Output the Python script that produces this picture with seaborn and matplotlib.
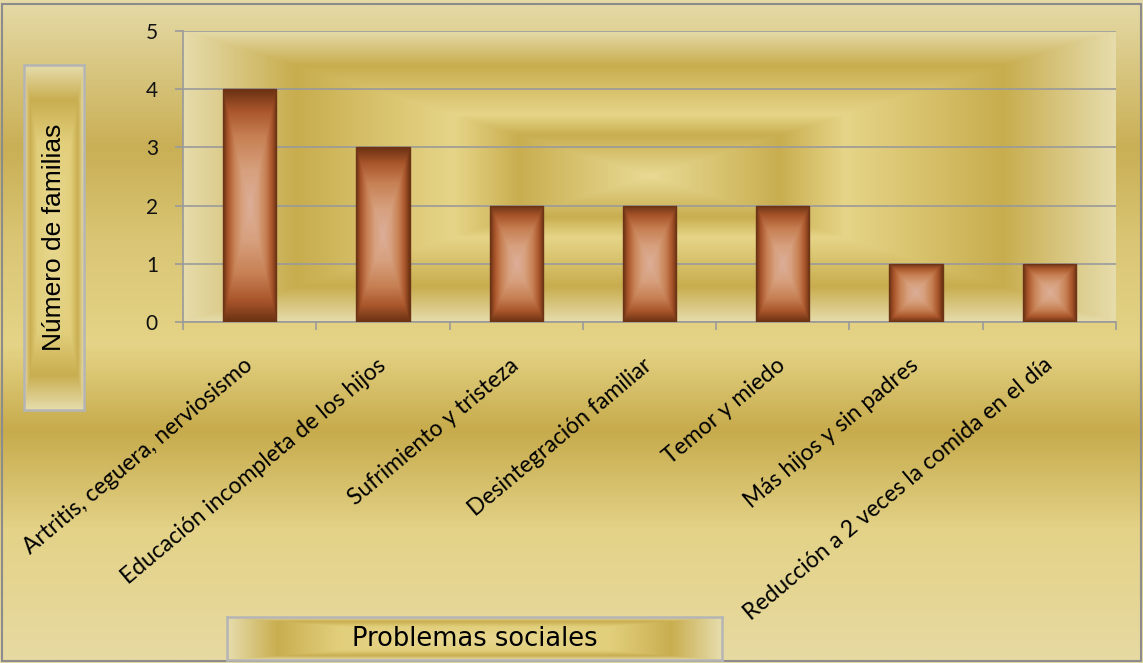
import numpy as np
import matplotlib
matplotlib.use("Agg")
import matplotlib.pyplot as plt
import seaborn as sns
from matplotlib.colors import LinearSegmentedColormap
from matplotlib.patches import Rectangle

# ---- data ----
categories = [
    "Artritis, ceguera, nerviosismo",
    "Educación incompleta de los hijos",
    "Sufrimiento y tristeza",
    "Desintegración familiar",
    "Temor y miedo",
    "Más hijos y sin padres",
    "Reducción a 2 veces la comida en el día",
]
values = [4, 3, 2, 2, 2, 1, 1]
y_ticks = [0, 1, 2, 3, 4, 5]
x_title = "Problemas sociales"
y_title = "Número de familias"

sns.set_theme(style="white")
plt.rcParams['font.family'] = ['Lato', 'DejaVu Sans']

W, H = 1143, 663
fig = plt.figure(figsize=(W / 100, H / 100), dpi=100)


def rect_grad(nx, ny):
    u = np.linspace(-1, 1, nx)
    v = np.linspace(-1, 1, ny)
    U, V = np.meshgrid(u, v)
    return np.maximum(np.abs(U), np.abs(V))


bg_cmap = LinearSegmentedColormap.from_list('bg', [
    (0.0, '#e5daa6'), (0.22, '#c9af55'), (0.36, '#d9c574'), (0.52, '#e5d487'),
    (0.65, '#c7ab4c'), (0.8, '#e3d287'), (1.0, '#e7daa2')])
plot_cmap = LinearSegmentedColormap.from_list('pl', [
    (0.0, '#e8da94'), (0.28, '#c9ae50'), (0.42, '#e6d588'),
    (0.76, '#c8ad4e'), (1.0, '#e6dcab')])
bar_cmap = LinearSegmentedColormap.from_list('bar', [
    (0.0, '#dcae98'), (0.3, '#d7a07e'), (0.6, '#c67f52'),
    (0.82, '#a9552b'), (1.0, '#6b3213')])
box_cmap = LinearSegmentedColormap.from_list('box', [
    (0.0, '#e8d890'), (0.55, '#e2cf7c'), (0.8, '#c9ae50'), (1.0, '#e6dcab')])

# figure background
bgax = fig.add_axes([0, 0, 1, 1], zorder=-5)
bgax.imshow(np.linspace(0, 1, 400)[:, None], cmap=bg_cmap, aspect='auto',
            extent=(0, 1, 0, 1), interpolation='bilinear')
bgax.set_xlim(0, 1)
bgax.set_ylim(0, 1)
bgax.set_axis_off()

# main axes
ax = fig.add_axes([183 / W, (H - 322) / H, (1116 - 183) / W, (322 - 31) / H])
ax.patch.set_alpha(0)
ax.imshow(rect_grad(600, 300), cmap=plot_cmap, extent=(-0.5, 6.5, 0, 5),
          aspect='auto', zorder=0, interpolation='bilinear', vmin=0, vmax=1)

sns.barplot(x=categories, y=values, ax=ax, width=0.4, color='#a8522a',
            edgecolor='#6e3416', linewidth=1.0, saturation=1, zorder=3)

for p in list(ax.patches):
    x0, y0, w, h = p.get_x(), p.get_y(), p.get_width(), p.get_height()
    im = ax.imshow(rect_grad(120, 240), cmap=bar_cmap, extent=(x0, x0 + w, y0, y0 + h),
                   aspect='auto', zorder=3.2, interpolation='bilinear', vmin=0, vmax=1)
    im.set_clip_path(p)
    p.set_facecolor('none')
    p.set_zorder(4)

ax.set_xlim(-0.5, 6.5)
ax.set_ylim(0, 5)
ax.set_axisbelow(True)
ax.set_yticks(y_ticks)
ax.set_yticklabels([str(t) for t in y_ticks])
ax.yaxis.grid(True, color='#9a9a9a', linewidth=1.2)
ax.xaxis.grid(False)
for s in ['top', 'right']:
    ax.spines[s].set_visible(False)
for s in ['left', 'bottom']:
    ax.spines[s].set_color('#9a9a9a')
    ax.spines[s].set_linewidth(1.2)

ax.set_xticks(range(len(categories)))
ax.set_xticklabels(categories, rotation=40, ha='right', va='center',
                   rotation_mode='anchor', fontsize=16.5, color='black')
ax.set_xticks(np.arange(-0.5, len(categories), 1), minor=True)
ax.tick_params(axis='x', which='major', length=0, pad=29)
ax.tick_params(axis='x', which='minor', length=6, width=1.2, color='#9a9a9a',
               bottom=True, direction='out')
ax.tick_params(axis='y', length=6, width=1.2, color='#9a9a9a', left=True,
               direction='out', pad=12, labelsize=15, labelcolor='#111111')
ax.set_xlabel('')
ax.set_ylabel('')


def label_box(rect, text, rotation, family, size):
    bax = fig.add_axes(rect, zorder=2)
    bax.imshow(rect_grad(300, 300), cmap=box_cmap, extent=(0, 1, 0, 1),
               aspect='auto', interpolation='bilinear', vmin=0, vmax=1)
    bax.set_xlim(0, 1)
    bax.set_ylim(0, 1)
    bax.set_xticks([])
    bax.set_yticks([])
    for s in bax.spines.values():
        s.set_visible(True)
        s.set_color('#b5b5b5')
        s.set_linewidth(1.8)
    bax.text(0.5, 0.5, text, rotation=rotation, ha='center', va='center',
             fontsize=size, color='black', family=family)


label_box([24 / W, (H - 410) / H, 60 / W, 345 / H], y_title, 90,
          ['Liberation Sans', 'DejaVu Sans'], 19)
label_box([227 / W, (H - 660) / H, 495 / W, 43 / H], x_title, 0,
          ['DejaVu Sans'], 18.5)

fig.add_artist(Rectangle((2 / W, 2 / H), (W - 4) / W, (H - 6) / H,
                         transform=fig.transFigure, fill=False,
                         edgecolor='#8c8c8c', linewidth=1.5))

fig.savefig('out.png', dpi=100)
